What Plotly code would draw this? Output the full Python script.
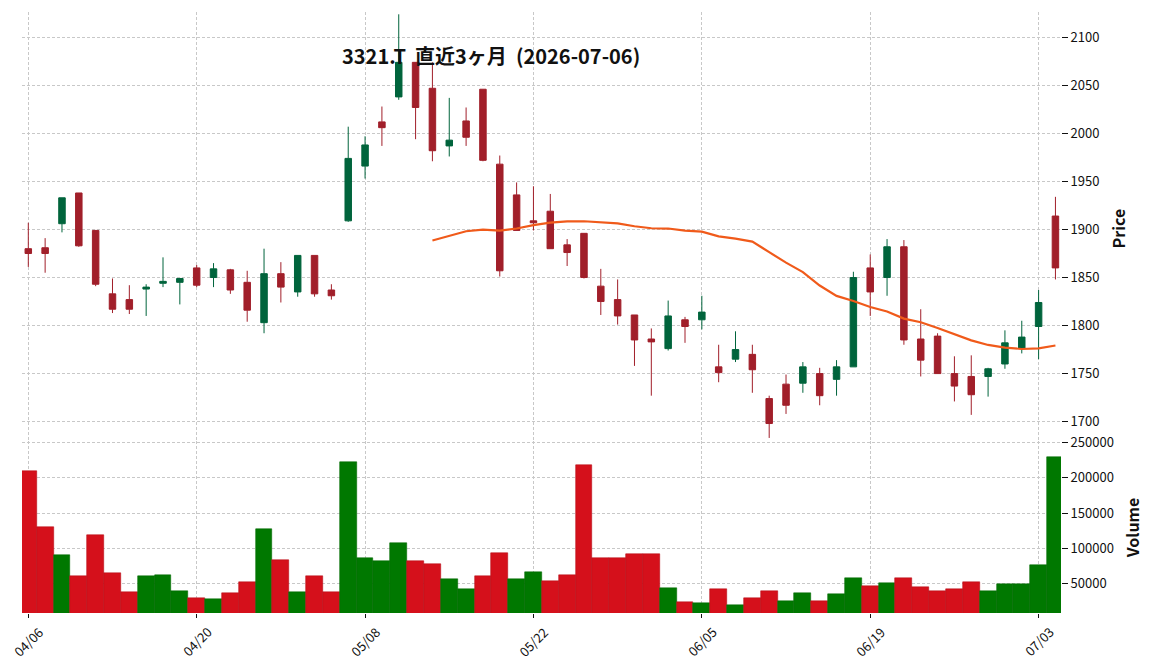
import plotly.graph_objects as go
from plotly.subplots import make_subplots

# ---- data ----
dates = [
    "2026-04-06", "2026-04-07", "2026-04-08", "2026-04-09", "2026-04-10",
    "2026-04-13", "2026-04-14", "2026-04-15", "2026-04-16", "2026-04-17",
    "2026-04-20", "2026-04-21", "2026-04-22", "2026-04-23", "2026-04-24",
    "2026-04-27", "2026-04-28", "2026-04-30", "2026-05-01", "2026-05-07",
    "2026-05-08", "2026-05-11", "2026-05-12", "2026-05-13", "2026-05-14",
    "2026-05-15", "2026-05-18", "2026-05-19", "2026-05-20", "2026-05-21",
    "2026-05-22", "2026-05-25", "2026-05-26", "2026-05-27", "2026-05-28",
    "2026-05-29", "2026-06-01", "2026-06-02", "2026-06-03", "2026-06-04",
    "2026-06-05", "2026-06-08", "2026-06-09", "2026-06-10", "2026-06-11",
    "2026-06-12", "2026-06-15", "2026-06-16", "2026-06-17", "2026-06-18",
    "2026-06-19", "2026-06-22", "2026-06-23", "2026-06-24", "2026-06-25",
    "2026-06-26", "2026-06-29", "2026-06-30", "2026-07-01", "2026-07-02",
    "2026-07-03", "2026-07-06",
]

opens = [1880, 1881, 1906, 1938, 1899, 1833, 1827, 1838, 1844, 1845,
         1860, 1850, 1858, 1845, 1803, 1854, 1835, 1873, 1837, 1909,
         1966, 2012, 2038, 2074, 2047, 1987, 2013, 2046, 1968, 1936,
         1909, 1919, 1884, 1896, 1841, 1827, 1811, 1786, 1776, 1806,
         1806, 1757, 1765, 1770, 1724, 1739, 1740, 1750, 1744, 1757,
         1860, 1850, 1882, 1786, 1789, 1750, 1747, 1747, 1760, 1776,
         1799, 1914]
highs = [1907, 1891, 1933, 1938, 1899, 1849, 1842, 1843, 1871, 1849,
         1863, 1865, 1859, 1857, 1880, 1866, 1873, 1873, 1843, 2007,
         1997, 2028, 2124, 2074, 2074, 2037, 2027, 2046, 1977, 1949,
         1945, 1937, 1890, 1896, 1859, 1848, 1811, 1797, 1826, 1809,
         1831, 1780, 1794, 1780, 1727, 1749, 1762, 1756, 1764, 1856,
         1874, 1890, 1889, 1817, 1792, 1768, 1769, 1756, 1795, 1805,
         1837, 1934]
lows = [1861, 1855, 1897, 1882, 1841, 1813, 1812, 1810, 1840, 1822,
        1840, 1840, 1833, 1804, 1792, 1824, 1830, 1830, 1827, 1908,
        1953, 1987, 2035, 1994, 1971, 1976, 1987, 1971, 1851, 1899,
        1899, 1880, 1862, 1849, 1811, 1801, 1758, 1727, 1774, 1782,
        1796, 1741, 1762, 1730, 1683, 1708, 1730, 1717, 1727, 1757,
        1810, 1831, 1780, 1747, 1750, 1721, 1707, 1726, 1755, 1771,
        1765, 1848]
closes = [1875, 1875, 1933, 1883, 1843, 1817, 1817, 1840, 1846, 1849,
          1842, 1859, 1837, 1816, 1854, 1840, 1873, 1833, 1831, 1974,
          1988, 2006, 2074, 2027, 1982, 1993, 1996, 1972, 1857, 1899,
          1907, 1880, 1876, 1850, 1825, 1810, 1785, 1783, 1810, 1799,
          1814, 1751, 1775, 1754, 1698, 1717, 1757, 1727, 1757, 1850,
          1835, 1882, 1785, 1764, 1750, 1737, 1728, 1755, 1782, 1788,
          1824, 1860]
volumes = [209000, 130000, 90000, 60000, 118500, 64500, 37700, 60400, 61800, 39100,
           29200, 27800, 36300, 51900, 127000, 83100, 37700, 60400, 37700, 222000,
           85900, 81700, 107200, 81700, 77400, 56100, 42000, 60400, 93000, 56100,
           66100, 53300, 61800, 217800, 85900, 85900, 91600, 91600, 43400, 23500,
           22100, 42000, 19300, 29200, 39100, 24900, 36300, 24900, 34900, 57600,
           46200, 50500, 57600, 44800, 39100, 42000, 51900, 39100, 49100, 49100,
           76000, 229200]
ma25 = [None] * 24 + [
    1888.6, 1893.4, 1898.2, 1899.8, 1898.8, 1901.0, 1904.6, 1907.1, 1908.5, 1908.6,
    1907.7, 1906.4, 1903.4, 1901.3, 1901.0, 1898.8, 1897.7, 1892.8, 1890.5, 1887.4,
    1876.4, 1865.5, 1855.6, 1841.7, 1830.9, 1825.6, 1819.3, 1814.7, 1807.2, 1803.5,
    1797.5, 1790.7, 1784.6, 1779.8, 1777.1, 1775.6, 1776.2, 1779.2]

title_text = "3321.T  直近3ヶ月  (2026-07-06)"

# ---- styling ----
FONT = "Noto Sans CJK JP"
UP = "#00643c"
DOWN = "#a11f2a"
VUP = "#007800"
VDOWN = "#d5101b"
VUP_EDGE = "#006a00"
VDOWN_EDGE = "#b80e18"
MA_COLOR = "#f05a1a"
GRID = "#c8c8c8"

x = list(range(len(dates)))
vcols, vedges = [], []
for i in range(len(closes)):
    up = i > 0 and closes[i] > closes[i - 1]
    vcols.append(VUP if up else VDOWN)
    vedges.append(VUP_EDGE if up else VDOWN_EDGE)

tickvals = x[::10]
ticktext = [d[5:].replace("-", "/") for d in dates[::10]]

fig = make_subplots(rows=2, cols=1, shared_xaxes=True, vertical_spacing=0,
                    row_heights=[0.714, 0.286])

fig.add_trace(go.Candlestick(
    x=x, open=opens, high=highs, low=lows, close=closes,
    increasing=dict(line=dict(color=UP, width=1), fillcolor=UP),
    decreasing=dict(line=dict(color=DOWN, width=1), fillcolor=DOWN),
    whiskerwidth=0, showlegend=False), row=1, col=1)

fig.add_trace(go.Scatter(x=x, y=ma25, mode="lines",
                         line=dict(color=MA_COLOR, width=2.2),
                         showlegend=False), row=1, col=1)

fig.add_trace(go.Bar(x=x, y=volumes, width=1.0,
                     marker=dict(color=vcols, line=dict(color=vedges, width=0.6)),
                     showlegend=False), row=2, col=1)

tickfont = dict(family=FONT, size=13, color="#111")
common_x = dict(range=[-0.374, 61.33], showgrid=True, gridcolor=GRID,
                gridwidth=0.8, griddash="3px,2px", zeroline=False,
                showline=False, tickvals=tickvals, ticktext=ticktext,
                automargin=False)
fig.update_xaxes(**common_x)
fig.update_xaxes(showticklabels=False, ticks="", rangeslider_visible=False,
                 row=1, col=1)
fig.update_xaxes(ticks="outside", ticklen=4, tickwidth=1, tickcolor="#111",
                 showticklabels=False, row=2, col=1)

common_y = dict(side="right", showgrid=True, gridcolor=GRID, gridwidth=0.8,
                griddash="3px,2px", zeroline=False, showline=False,
                ticks="outside", ticklen=6, tickwidth=1, tickcolor="#111",
                tickfont=tickfont, automargin=False, ticklabeloverflow="allow")
fig.update_yaxes(**common_y)
fig.update_yaxes(range=[1679.7, 2126.4], tick0=1700, dtick=50,
                 domain=[0.286, 1.0], row=1, col=1)
fig.update_yaxes(range=[8400, 252100], tick0=0, dtick=50000, tickformat="d",
                 domain=[0.0, 0.286], row=2, col=1)

# date labels, rotated 45 degrees and centred under each tick (matplotlib style)
annotations = [
    dict(text=t, x=v, xref="x2", y=-0.0471, yref="paper", showarrow=False,
         textangle=-45, xanchor="center", yanchor="middle", font=tickfont)
    for v, t in zip(tickvals, ticktext)
]
annotations += [
    dict(text="<b>" + title_text + "</b>", x=0.4514, y=0.928,
         xref="paper", yref="paper", showarrow=False,
         xanchor="center", yanchor="middle",
         font=dict(family=FONT, size=20, color="#111")),
    dict(text="<b>Price</b>", x=1.0549, y=0.640, xref="paper", yref="paper",
         showarrow=False, textangle=-90, xanchor="center", yanchor="middle",
         font=dict(family=FONT, size=16, color="#111")),
    dict(text="<b>Volume</b>", x=1.0683, y=0.1426, xref="paper", yref="paper",
         showarrow=False, textangle=-90, xanchor="center", yanchor="middle",
         font=dict(family=FONT, size=16, color="#111")),
]

fig.update_layout(
    width=1152, height=670,
    margin=dict(l=22, r=91, t=12, b=57, autoexpand=False),
    paper_bgcolor="white", plot_bgcolor="white",
    boxgap=0.45, bargap=0,
    showlegend=False,
    font=dict(family=FONT, color="#111"),
    annotations=annotations,
)

fig.write_html("out.html")
